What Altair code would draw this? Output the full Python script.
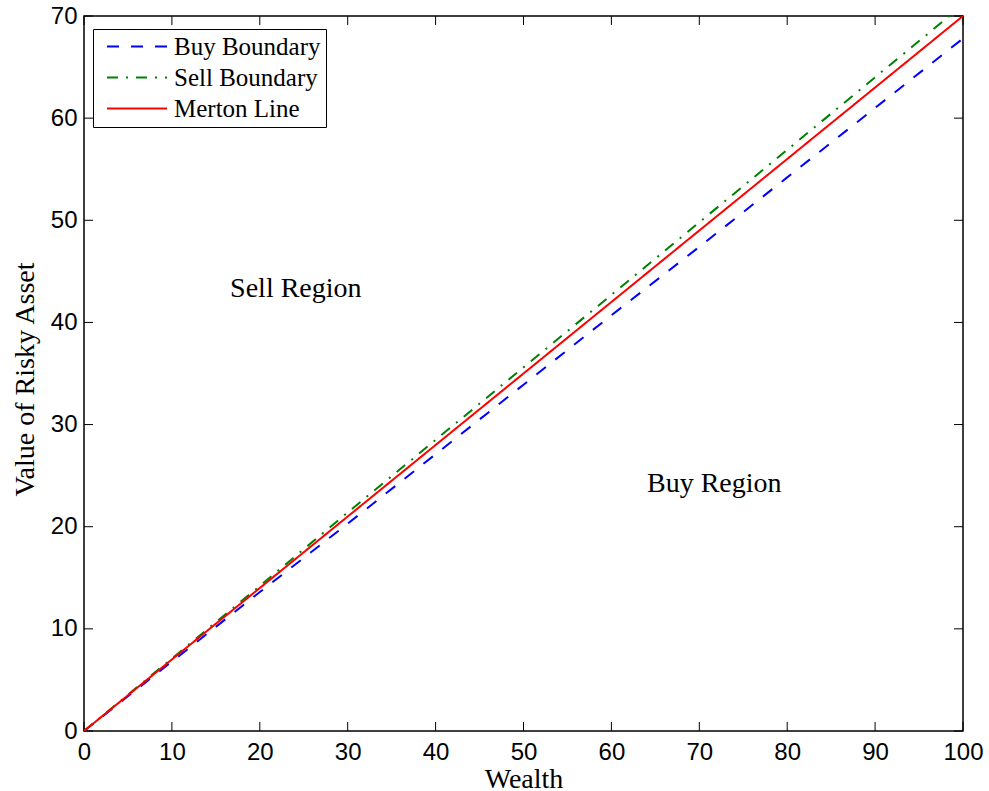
import altair as alt
import pandas as pd

# ---- data ----
wealth = [0, 10, 20, 30, 40, 50, 60, 70, 80, 90, 100]
buy_boundary = [0, 6.8, 13.6, 20.3, 27.1, 33.9, 40.7, 47.4, 54.2, 61.0, 67.8]
sell_boundary = [0, 7.1, 14.2, 21.4, 28.5, 35.6, 42.7, 49.8, 56.9, 64.0, 71.1]
merton_line = [0, 7, 14, 21, 28, 35, 42, 49, 56, 63, 70]

series_names = ["Buy Boundary", "Sell Boundary", "Merton Line"]
series_colors = ["#0000ff", "#008000", "#ff0000"]
series_dashes = [[12, 12], [11, 8, 2, 8], [1, 0]]

x_ticks = [0, 10, 20, 30, 40, 50, 60, 70, 80, 90, 100]
y_ticks = [0, 10, 20, 30, 40, 50, 60, 70]

region_labels = ["Sell Region", "Buy Region"]
region_x = [24.1, 71.7]
region_y = [42.5, 23.4]

# ---- tables ----
rows = []
for name, vals in zip(series_names, [buy_boundary, sell_boundary, merton_line]):
    for w, v in zip(wealth, vals):
        rows.append({"wealth": w, "value": v, "series": name})
lines_df = pd.DataFrame(rows)
xt_df = pd.DataFrame({"xt": x_ticks})
yt_df = pd.DataFrame({"yt": y_ticks})
txt_df = pd.DataFrame({"label": region_labels, "tx": region_x, "ty": region_y})

W, H = 879, 715
SERIF = "Liberation Serif"
SANS = "Liberation Sans"

xs = alt.Scale(domain=[0, 100], nice=False, zero=False)
ys = alt.Scale(domain=[0, 70], nice=False, zero=False)

xaxis = alt.Axis(values=x_ticks, title="Wealth", grid=False, ticks=False, domain=False,
                 labelFont=SANS, labelFontSize=24, labelColor="black", labelPadding=9,
                 labelFlush=False, labelOverlap=False, format="d",
                 titleFont=SERIF, titleFontSize=28, titleFontWeight="normal",
                 titleColor="black", titleBaseline="alphabetic", titleY=56)
yaxis = alt.Axis(values=y_ticks, title="Value of Risky Asset", grid=False, ticks=False,
                 domain=False, labelFont=SANS, labelFontSize=24, labelColor="black",
                 labelPadding=7, labelOverlap=False, labelFlush=False, format="d",
                 titleFont=SERIF, titleFontSize=28, titleFontWeight="normal",
                 titleColor="black", titleBaseline="alphabetic", titleX=-51, titleY=363)

legend = alt.Legend(title=None, orient="none", legendX=9, legendY=13, padding=5,
                    fillColor="white", strokeColor="black",
                    symbolType="M-6,0H6", symbolSize=100, symbolStrokeWidth=2,
                    symbolOffset=26.5, labelOffset=24.5, labelFont=SERIF,
                    labelFontSize=25, labelColor="black", rowPadding=5, labelLimit=0)

lines = alt.Chart(lines_df).mark_line(strokeWidth=2, clip=True).encode(
    x=alt.X("wealth:Q", scale=xs, axis=xaxis),
    y=alt.Y("value:Q", scale=ys, axis=yaxis),
    color=alt.Color("series:N", scale=alt.Scale(domain=series_names, range=series_colors),
                    legend=legend),
    strokeDash=alt.StrokeDash("series:N",
                              scale=alt.Scale(domain=series_names, range=series_dashes),
                              legend=legend),
    detail="series:N",
)

tick_bottom = alt.Chart(xt_df).mark_rule(color="black", strokeWidth=1).encode(
    x=alt.X("xt:Q", scale=xs, axis=xaxis), y=alt.value(H), y2=alt.value(H - 9))
tick_top = alt.Chart(xt_df).mark_rule(color="black", strokeWidth=1).encode(
    x=alt.X("xt:Q", scale=xs, axis=xaxis), y=alt.value(0), y2=alt.value(9))
tick_left = alt.Chart(yt_df).mark_rule(color="black", strokeWidth=1).encode(
    y=alt.Y("yt:Q", scale=ys, axis=yaxis), x=alt.value(0), x2=alt.value(9))
tick_right = alt.Chart(yt_df).mark_rule(color="black", strokeWidth=1).encode(
    y=alt.Y("yt:Q", scale=ys, axis=yaxis), x=alt.value(W), x2=alt.value(W - 9))

texts = alt.Chart(txt_df).mark_text(font=SERIF, fontSize=28, align="center",
                                    baseline="alphabetic", color="black").encode(
    x=alt.X("tx:Q", scale=xs, axis=xaxis),
    y=alt.Y("ty:Q", scale=ys, axis=yaxis),
    text="label:N",
)

chart = alt.layer(tick_bottom, tick_top, tick_left, tick_right, texts, lines).properties(
    width=W, height=H,
    autosize=alt.AutoSizeParams(type="none"),
    padding={"left": 84, "top": 16, "right": 26, "bottom": 60},
    background="white",
).configure_view(stroke="black", strokeWidth=1.5)

chart.save("out.html", embed_options={"renderer": "svg", "actions": False})
